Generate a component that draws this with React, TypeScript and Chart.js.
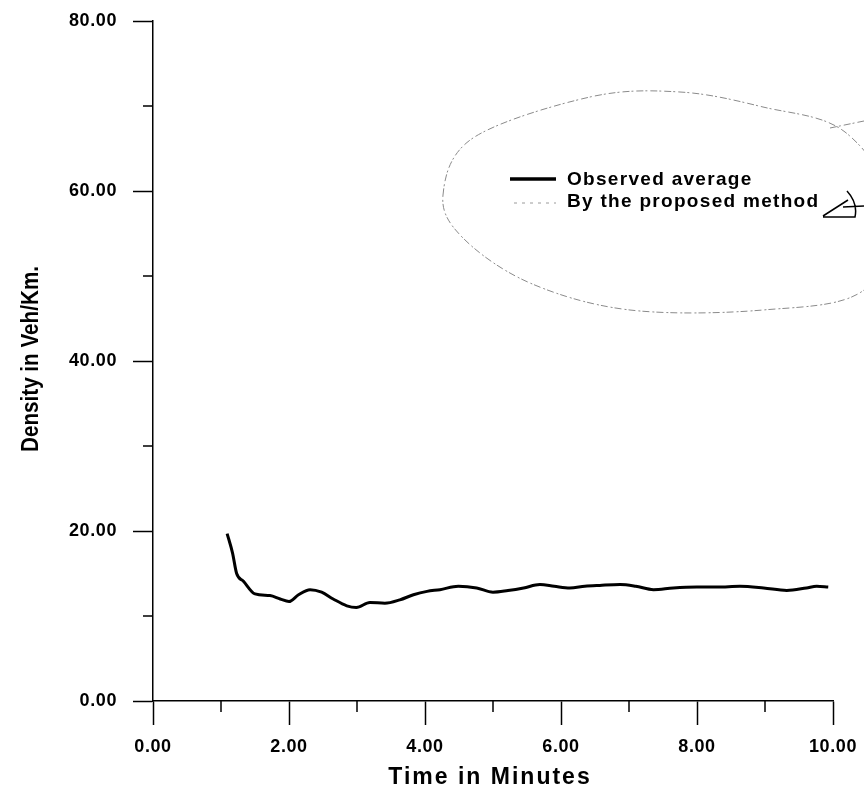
import React, { useEffect, useRef } from 'react';
import { Chart, registerables } from 'chart.js';

Chart.register(...registerables);

// ---- data ----
const TIME_MIN = [
  1.09, 1.17, 1.23, 1.33, 1.5, 1.72, 1.87, 2.0, 2.14, 2.31,
  2.48, 2.65, 2.85, 2.99, 3.19, 3.41, 3.63, 3.83, 4.03, 4.22,
  4.49, 4.76, 5.0, 5.22, 5.45, 5.69, 5.9, 6.13, 6.35, 6.57,
  6.87, 7.1, 7.36, 7.65, 8.0, 8.3, 8.63, 8.98, 9.32, 9.61,
  9.76, 9.93,
];
const OBSERVED_DENSITY = [
  19.7, 17.4, 15.0, 14.1, 12.6, 12.4, 12.0, 11.7, 12.5, 13.1,
  12.8, 12.0, 11.2, 11.0, 11.6, 11.5, 11.9, 12.5, 12.9, 13.1,
  13.5, 13.3, 12.8, 13.0, 13.3, 13.7, 13.5, 13.3, 13.5, 13.6,
  13.7, 13.5, 13.1, 13.3, 13.4, 13.4, 13.5, 13.3, 13.0, 13.3,
  13.5, 13.4,
];
const PROPOSED_DENSITY: number[] = []; // no visible marks in the reference

const X_MIN = 0;
const X_MAX = 10;
const X_STEP = 2;
const X_MINOR_TICKS = [1, 3, 5, 7, 9];
const Y_MIN = 0;
const Y_MAX = 80;
const Y_STEP = 20;
const Y_MINOR_TICKS = [10, 30, 50, 70];

const X_TITLE = 'Time in Minutes';
const Y_TITLE = 'Density in Veh/Km.';
const SERIES_LABELS = ['Observed average', 'By the proposed method'];

const FONT = '"Liberation Sans", Arial, Helvetica, sans-serif';

function closedCurve(ctx: CanvasRenderingContext2D, pts: number[][]) {
  const n = pts.length;
  ctx.moveTo(pts[0][0], pts[0][1]);
  for (let i = 0; i < n; i++) {
    const p0 = pts[(i - 1 + n) % n];
    const p1 = pts[i];
    const p2 = pts[(i + 1) % n];
    const p3 = pts[(i + 2) % n];
    const c1x = p1[0] + (p2[0] - p0[0]) / 6;
    const c1y = p1[1] + (p2[1] - p0[1]) / 6;
    const c2x = p2[0] - (p3[0] - p1[0]) / 6;
    const c2y = p2[1] - (p3[1] - p1[1]) / 6;
    ctx.bezierCurveTo(c1x, c1y, c2x, c2y, p2[0], p2[1]);
  }
}

const decorPlugin = {
  id: 'decor',
  beforeDraw(chart: any) {
    (chart.ctx as any).letterSpacing = '0.6px';
  },
  afterDraw(chart: any) {
    const ctx: CanvasRenderingContext2D = chart.ctx;
    const xs = chart.scales.x;
    const ys = chart.scales.y;
    ctx.save();
    (ctx as any).letterSpacing = '0px';

    // minor ticks
    ctx.strokeStyle = '#000';
    ctx.lineWidth = 1.5;
    ctx.beginPath();
    for (const v of Y_MINOR_TICKS) {
      const p = ys.getPixelForValue(v);
      ctx.moveTo(xs.left - 10, p);
      ctx.lineTo(xs.left, p);
    }
    for (const v of X_MINOR_TICKS) {
      const p = xs.getPixelForValue(v);
      ctx.moveTo(p, ys.bottom);
      ctx.lineTo(p, ys.bottom + 11);
    }
    ctx.stroke();

    // axis titles
    ctx.fillStyle = '#000';
    ctx.textAlign = 'center';
    ctx.textBaseline = 'middle';
    ctx.font = `bold 24px ${FONT}`;
    const tw = ctx.measureText(Y_TITLE).width;
    ctx.save();
    ctx.translate(31, (ys.top + ys.bottom) / 2 - 2);
    ctx.rotate(-Math.PI / 2);
    ctx.scale(186 / tw, 1);
    ctx.fillText(Y_TITLE, 0, 0);
    ctx.restore();

    ctx.font = `bold 23px ${FONT}`;
    (ctx as any).letterSpacing = '2px';
    ctx.fillText(X_TITLE, (xs.left + xs.right) / 2 - 3, 778);

    // legend
    const ds = chart.data.datasets;
    ctx.textAlign = 'left';
    ctx.font = `bold 19px ${FONT}`;
    (ctx as any).letterSpacing = '1.3px';
    ctx.strokeStyle = ds[0].borderColor;
    ctx.lineWidth = 3.5;
    ctx.beginPath();
    ctx.moveTo(510, 179);
    ctx.lineTo(556, 179);
    ctx.stroke();
    ctx.fillText(ds[0].label, 567, 180);

    ctx.strokeStyle = ds[1].borderColor;
    ctx.lineWidth = 1;
    ctx.setLineDash(ds[1].borderDash);
    ctx.beginPath();
    ctx.moveTo(514, 203);
    ctx.lineTo(556, 203);
    ctx.stroke();
    ctx.setLineDash([]);
    ctx.fillText(ds[1].label, 567, 202);

    // hand-drawn ellipse annotation around the legend
    ctx.strokeStyle = '#8a8a8a';
    ctx.lineWidth = 1;
    ctx.setLineDash([7, 2, 2, 3]);
    ctx.beginPath();
    closedCurve(ctx, [
      [443, 195], [473, 138], [590, 97], [680, 92], [763, 107], [845, 132],
      [895, 210], [864, 290], [763, 310], [630, 310], [530, 283], [463, 238],
    ]);
    ctx.stroke();
    ctx.beginPath();
    ctx.moveTo(830, 128);
    ctx.lineTo(864, 121);
    ctx.stroke();
    ctx.setLineDash([]);

    // small pen mark next to the legend
    ctx.strokeStyle = '#000';
    ctx.lineWidth = 1.5;
    ctx.beginPath();
    ctx.moveTo(823, 216);
    ctx.lineTo(848, 200);
    ctx.moveTo(847, 191);
    ctx.quadraticCurveTo(858, 203, 855, 217);
    ctx.lineTo(823, 217);
    ctx.moveTo(843, 207);
    ctx.lineTo(864, 206);
    ctx.stroke();

    ctx.restore();
  },
};

export default function App() {
  const canvasRef = useRef<HTMLCanvasElement | null>(null);

  useEffect(() => {
    const canvas = canvasRef.current;
    if (!canvas) return;
    const tickFont = { family: FONT, size: 18, weight: 'bold' as const };
    const chart = new Chart(canvas, {
      type: 'line',
      data: {
        datasets: [
          {
            label: SERIES_LABELS[0],
            data: TIME_MIN.map((t, i) => ({ x: t, y: OBSERVED_DENSITY[i] })),
            borderColor: '#000',
            borderWidth: 3,
            pointRadius: 0,
            fill: false,
            cubicInterpolationMode: 'monotone',
          },
          {
            label: SERIES_LABELS[1],
            data: PROPOSED_DENSITY.map((v, i) => ({ x: TIME_MIN[i], y: v })),
            borderColor: '#9a9a9a',
            borderWidth: 1,
            borderDash: [3, 5],
            pointRadius: 0,
            fill: false,
          },
        ],
      },
      options: {
        responsive: false,
        animation: false,
        layout: { padding: { left: 0, right: 31, top: 21, bottom: 0 } },
        plugins: {
          legend: { display: false },
          tooltip: { enabled: false },
        },
        scales: {
          x: {
            type: 'linear',
            min: X_MIN,
            max: X_MAX,
            afterFit(s: any) {
              s.height = 94;
              s.paddingLeft = 0;
              s.paddingRight = 0;
            },
            ticks: {
              stepSize: X_STEP,
              autoSkip: false,
              maxRotation: 0,
              color: '#000',
              font: tickFont,
              padding: 11,
              callback: (v: any) => Number(v).toFixed(2),
            },
            grid: {
              drawOnChartArea: false,
              drawTicks: true,
              tickLength: 24,
              tickColor: '#000',
              tickWidth: 1.5,
            },
            border: { display: true, color: '#000', width: 1.5 },
          },
          y: {
            type: 'linear',
            min: Y_MIN,
            max: Y_MAX,
            afterFit(s: any) {
              s.width = 153;
              s.paddingTop = 0;
              s.paddingBottom = 0;
            },
            ticks: {
              stepSize: Y_STEP,
              color: '#000',
              font: tickFont,
              padding: 16,
              callback: (v: any) => Number(v).toFixed(2),
            },
            grid: {
              drawOnChartArea: false,
              drawTicks: true,
              tickLength: 20,
              tickColor: '#000',
              tickWidth: 1.5,
            },
            border: { display: true, color: '#000', width: 1.5 },
          },
        },
      },
      plugins: [decorPlugin],
    } as any);
    return () => chart.destroy();
  }, []);

  return (
    <div style={{ position: 'fixed', left: 0, top: 0, width: 864, height: 795, background: '#fff' }}>
      <canvas ref={canvasRef} width={864} height={795} style={{ display: 'block' }} />
    </div>
  );
}
